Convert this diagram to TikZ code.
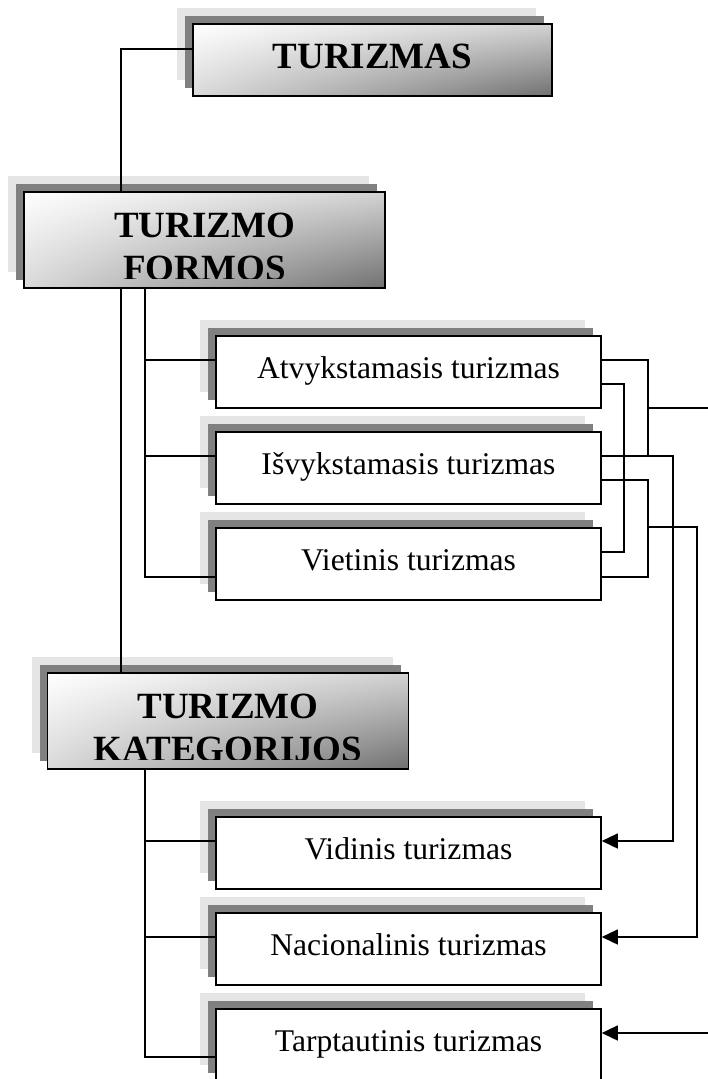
\documentclass[tikz,border=0pt]{standalone}
\usepackage{fontspec}
\setmainfont{Liberation Serif}
\usetikzlibrary{shadows,shadings,arrows.meta}

\tikzset{
  twoshadow/.style={general shadow={shadow xshift=-16pt,shadow yshift=16pt,fill=gray!20},
                    general shadow={shadow xshift=-8pt,shadow yshift=8pt,fill=gray}},
  headbox/.style={twoshadow, draw, line width=1.6pt, inner sep=0pt,
                  upper left=white, upper right=gray!35, lower left=gray!30, lower right=black!56},
  headtext/.style={font=\bfseries\fontsize{37}{44}\selectfont, anchor=base, inner sep=0pt},
  itembox/.style={twoshadow, draw, fill=white, line width=1.6pt, inner sep=0pt,
                  minimum width=385pt, minimum height=72pt,
                  font=\fontsize{31.6}{38}\selectfont, text height=20pt, text depth=7pt},
  link/.style={line width=1.6pt},
  arrowlink/.style={link, -{Triangle[length=16pt,width=15pt]}}
}

\begin{document}
\begin{tikzpicture}[x=1pt,y=-1pt]
\useasboundingbox (0,0) rectangle (708,1079);

% antrastes
\node[headbox, minimum width=359pt, minimum height=72pt, font=\bfseries\fontsize{37}{44}\selectfont,
      text height=24pt, text depth=8pt] (turizmas) at (372.5,60) {TURIZMAS};
\node[headbox, minimum width=361pt, minimum height=96pt,
      path picture={
        \clip (path picture bounding box.north west) rectangle ([yshift=10pt]path picture bounding box.south east);
        \node[headtext] at ([yshift=-45pt]path picture bounding box.north) {TURIZMO};
        \node[headtext] at ([yshift=8pt]path picture bounding box.south) {FORMOS};
      }] (formos) at (204.5,240) {};
\node[headbox, minimum width=361pt, minimum height=96pt,
      path picture={
        \clip (path picture bounding box.north west) rectangle ([yshift=10pt]path picture bounding box.south east);
        \node[headtext] at ([yshift=-45pt]path picture bounding box.north) {TURIZMO};
        \node[headtext] at ([yshift=8pt]path picture bounding box.south) {KATEGORIJOS};
      }] (kateg) at (228,721) {};

% formos
\node[itembox] (atv) at (408.5,372) {Atvykstamasis turizmas};
\node[itembox] (isv) at (408.5,468) {Išvykstamasis turizmas};
\node[itembox] (viet) at (408.5,564) {Vietinis turizmas};

% kategorijos
\node[itembox] (vid) at (408.5,853) {Vidinis turizmas};
\node[itembox] (nac) at (408.5,949) {Nacionalinis turizmas};
\node[itembox] (tarp) at (408.5,1045) {Tarptautinis turizmas};

% kairiosios linijos
\coordinate (trunk) at (121,0);
\coordinate (bus) at (145,0);
\draw[link] ([yshift=11pt]turizmas.west) -| (trunk |- formos.north);
\draw[link] (trunk |- formos.south) -- (trunk |- kateg.north);
\foreach \b/\s in {atv/12pt, isv/12pt, viet/-13pt}
    \draw[link] (bus |- formos.south) |- ([yshift=\s]\b.west);
\foreach \b/\s in {vid/12pt, nac/12pt, tarp/-12pt}
    \draw[link] (bus |- kateg.south) |- ([yshift=\s]\b.west);

% desiniosios linijos
\coordinate (r1) at (624,0);
\coordinate (r2) at (648,0);
\coordinate (r3) at (673,0);
\coordinate (r4) at (697,0);
\coordinate (out) at (708,408);
\coordinate (in) at (708,1033);
\foreach \b in {atv,isv}
{
    \coordinate (\b-a) at ([yshift=12pt]\b.east);
    \coordinate (\b-b) at ([yshift=-12pt]\b.east);
}
\coordinate (viet-a) at ([yshift=12pt]viet.east);
\coordinate (viet-b) at ([yshift=-13pt]viet.east);
\coordinate (vid-a) at ([yshift=12pt]vid.east);
\coordinate (nac-a) at ([yshift=12pt]nac.east);
\coordinate (tarp-a) at ([yshift=12pt]tarp.east);

\draw[link] (atv-a) -| (r2 |- isv-a);
\draw[link] (r2 |- out) -- (out);
\draw[link] (atv-b) -| (r1 |- viet-a) -- (viet-a);
\draw[link] (isv-b) -| (r2 |- viet-b) -- (viet-b);
\draw[arrowlink] (isv-a) -| (r3 |- vid-a) -- (vid-a);
\draw[arrowlink] (r2 |- viet.north) -| (r4 |- nac-a) -- (nac-a);
\draw[arrowlink] (in) -- (tarp-a);

\end{tikzpicture}
\end{document}
